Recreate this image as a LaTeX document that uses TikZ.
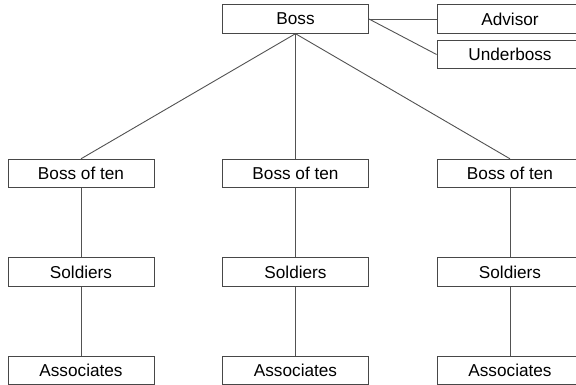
\documentclass[tikz,border=0pt]{standalone}
\usepackage{fontspec}
\setmainfont{Liberation Sans}
\begin{document}
\begin{tikzpicture}[x=1pt,y=-1pt,
  box/.style={draw=black!72, line width=0.9pt, fill=white, minimum width=146pt, minimum height=28.5pt, inner sep=0pt, font=\fontsize{17.2}{19}\selectfont, text=black},
  link/.style={draw=black!68, line width=0.9pt}]
\useasboundingbox (0,0) rectangle (576,385);
\clip (0,0) rectangle (576,385);
\node[box] (boss) at (295.5,19) {Boss};
\node[box] (adv) at (510,19) {Advisor};
\node[box] (ub) at (510,54.5) {Underboss};
\foreach \n/\x in {l/81,m/295.5,r/510}{
  \node[box] (bt\n) at (\x,173.5) {Boss of ten};
  \node[box] (so\n) at (\x,272) {Soldiers};
  \node[box] (as\n) at (\x,370.5) {Associates};
  \draw[link] (bt\n.south) -- (so\n.north);
  \draw[link] (so\n.south) -- (as\n.north);
  \draw[link] (boss.south) -- (bt\n.north);
}
\draw[link] (boss.east) -- (adv.west);
\draw[link] (boss.east) -- (ub.west);
\end{tikzpicture}
\end{document}
